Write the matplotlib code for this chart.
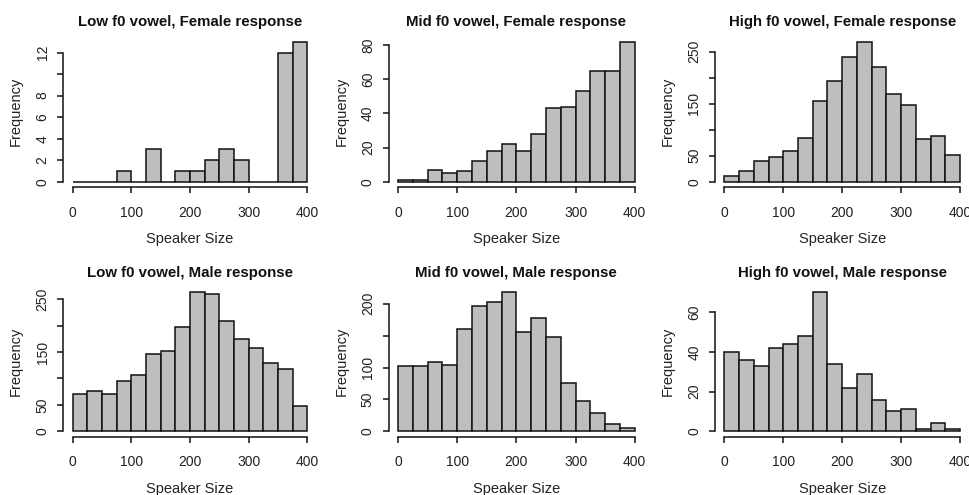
import numpy as np
import matplotlib
matplotlib.use("Agg")
import matplotlib.pyplot as plt

plt.rcParams['font.family'] = ['Liberation Sans', 'DejaVu Sans']

bin_edges = list(range(0, 425, 25))

titles = [
    "Low f0 vowel, Female response",
    "Mid f0 vowel, Female response",
    "High f0 vowel, Female response",
    "Low f0 vowel, Male response",
    "Mid f0 vowel, Male response",
    "High f0 vowel, Male response",
]

low_female = [0, 0, 0, 1, 0, 3, 0, 1, 1, 2, 3, 2, 0, 0, 12, 13]
mid_female = [1, 1, 7, 5, 6, 12, 18, 22, 18, 28, 43, 44, 53, 65, 65, 82]
high_female = [11, 20, 39, 47, 59, 84, 155, 194, 240, 269, 220, 169, 147, 82, 88, 51]
low_male = [71, 77, 71, 95, 106, 146, 152, 198, 263, 259, 208, 175, 158, 130, 117, 48]
mid_male = [103, 103, 109, 104, 160, 197, 203, 218, 155, 178, 148, 76, 47, 28, 12, 5]
high_male = [40, 36, 33, 42, 44, 48, 70, 34, 22, 29, 16, 10, 11, 1, 4, 1]

series = [low_female, mid_female, high_female, low_male, mid_male, high_male]

# y ticks (R pretty) and which labels are drawn
yticks = [
    [0, 2, 4, 6, 8, 10, 12],
    [0, 20, 40, 60, 80],
    [0, 50, 100, 150, 200, 250],
    [0, 50, 100, 150, 200, 250],
    [0, 50, 100, 150, 200],
    [0, 20, 40, 60],
]
ylabels = [
    ["0", "2", "4", "6", "8", "", "12"],
    ["0", "20", "40", "60", "80"],
    ["0", "50", "", "150", "", "250"],
    ["0", "50", "", "150", "", "250"],
    ["0", "50", "100", "", "200"],
    ["0", "20", "40", "60"],
]
xticks = [0, 100, 200, 300, 400]

W, H = 969, 495
fig = plt.figure(figsize=(W / 100, H / 100), dpi=100)

col_lr = [(63.3, 316.7), (388.5, 644.2), (714.9, 969.4)]
row_tb = [(36.2, 187.3), (286.7, 436.9)]

for i, counts in enumerate(series):
    r, c = divmod(i, 3)
    l, rr = col_lr[c]
    t, b = row_tb[r]
    ax = fig.add_axes([l / W, 1 - b / H, (rr - l) / W, (b - t) / H])
    edges = np.array(bin_edges)
    ax.bar(edges[:-1], counts, width=np.diff(edges), align='edge',
           color='#bebebe', edgecolor='#111111', linewidth=1.1)
    ymax = max(counts)
    ax.set_xlim(-16, 416)
    ax.set_ylim(-0.04 * ymax, 1.04 * ymax)
    for s in ['top', 'right']:
        ax.spines[s].set_visible(False)
    ax.spines['left'].set_bounds(yticks[i][0], yticks[i][-1])
    ax.spines['bottom'].set_bounds(0, 400)
    for s in ['left', 'bottom']:
        ax.spines[s].set_linewidth(1.1)
        ax.spines[s].set_color('#111111')
    ax.set_xticks(xticks)
    ax.set_xticklabels([str(x) for x in xticks])
    ax.set_yticks(yticks[i])
    ax.set_yticklabels(ylabels[i], rotation=90, va='center')
    ax.tick_params(axis='both', length=4.3, width=1.1, labelsize=10,
                   color='#111111', labelcolor='#222222')
    ax.tick_params(axis='x', pad=9.0)
    ax.tick_params(axis='y', pad=5.5)
    ax.set_title(titles[i], fontsize=10.8, fontweight='bold', pad=7, color='#111111')
    ax.set_xlabel("Speaker Size", fontsize=10.5, labelpad=9, color='#222222')
    ax.set_ylabel("Frequency", fontsize=10.5, labelpad=9, color='#222222')

fig.savefig("out.png", dpi=100)
